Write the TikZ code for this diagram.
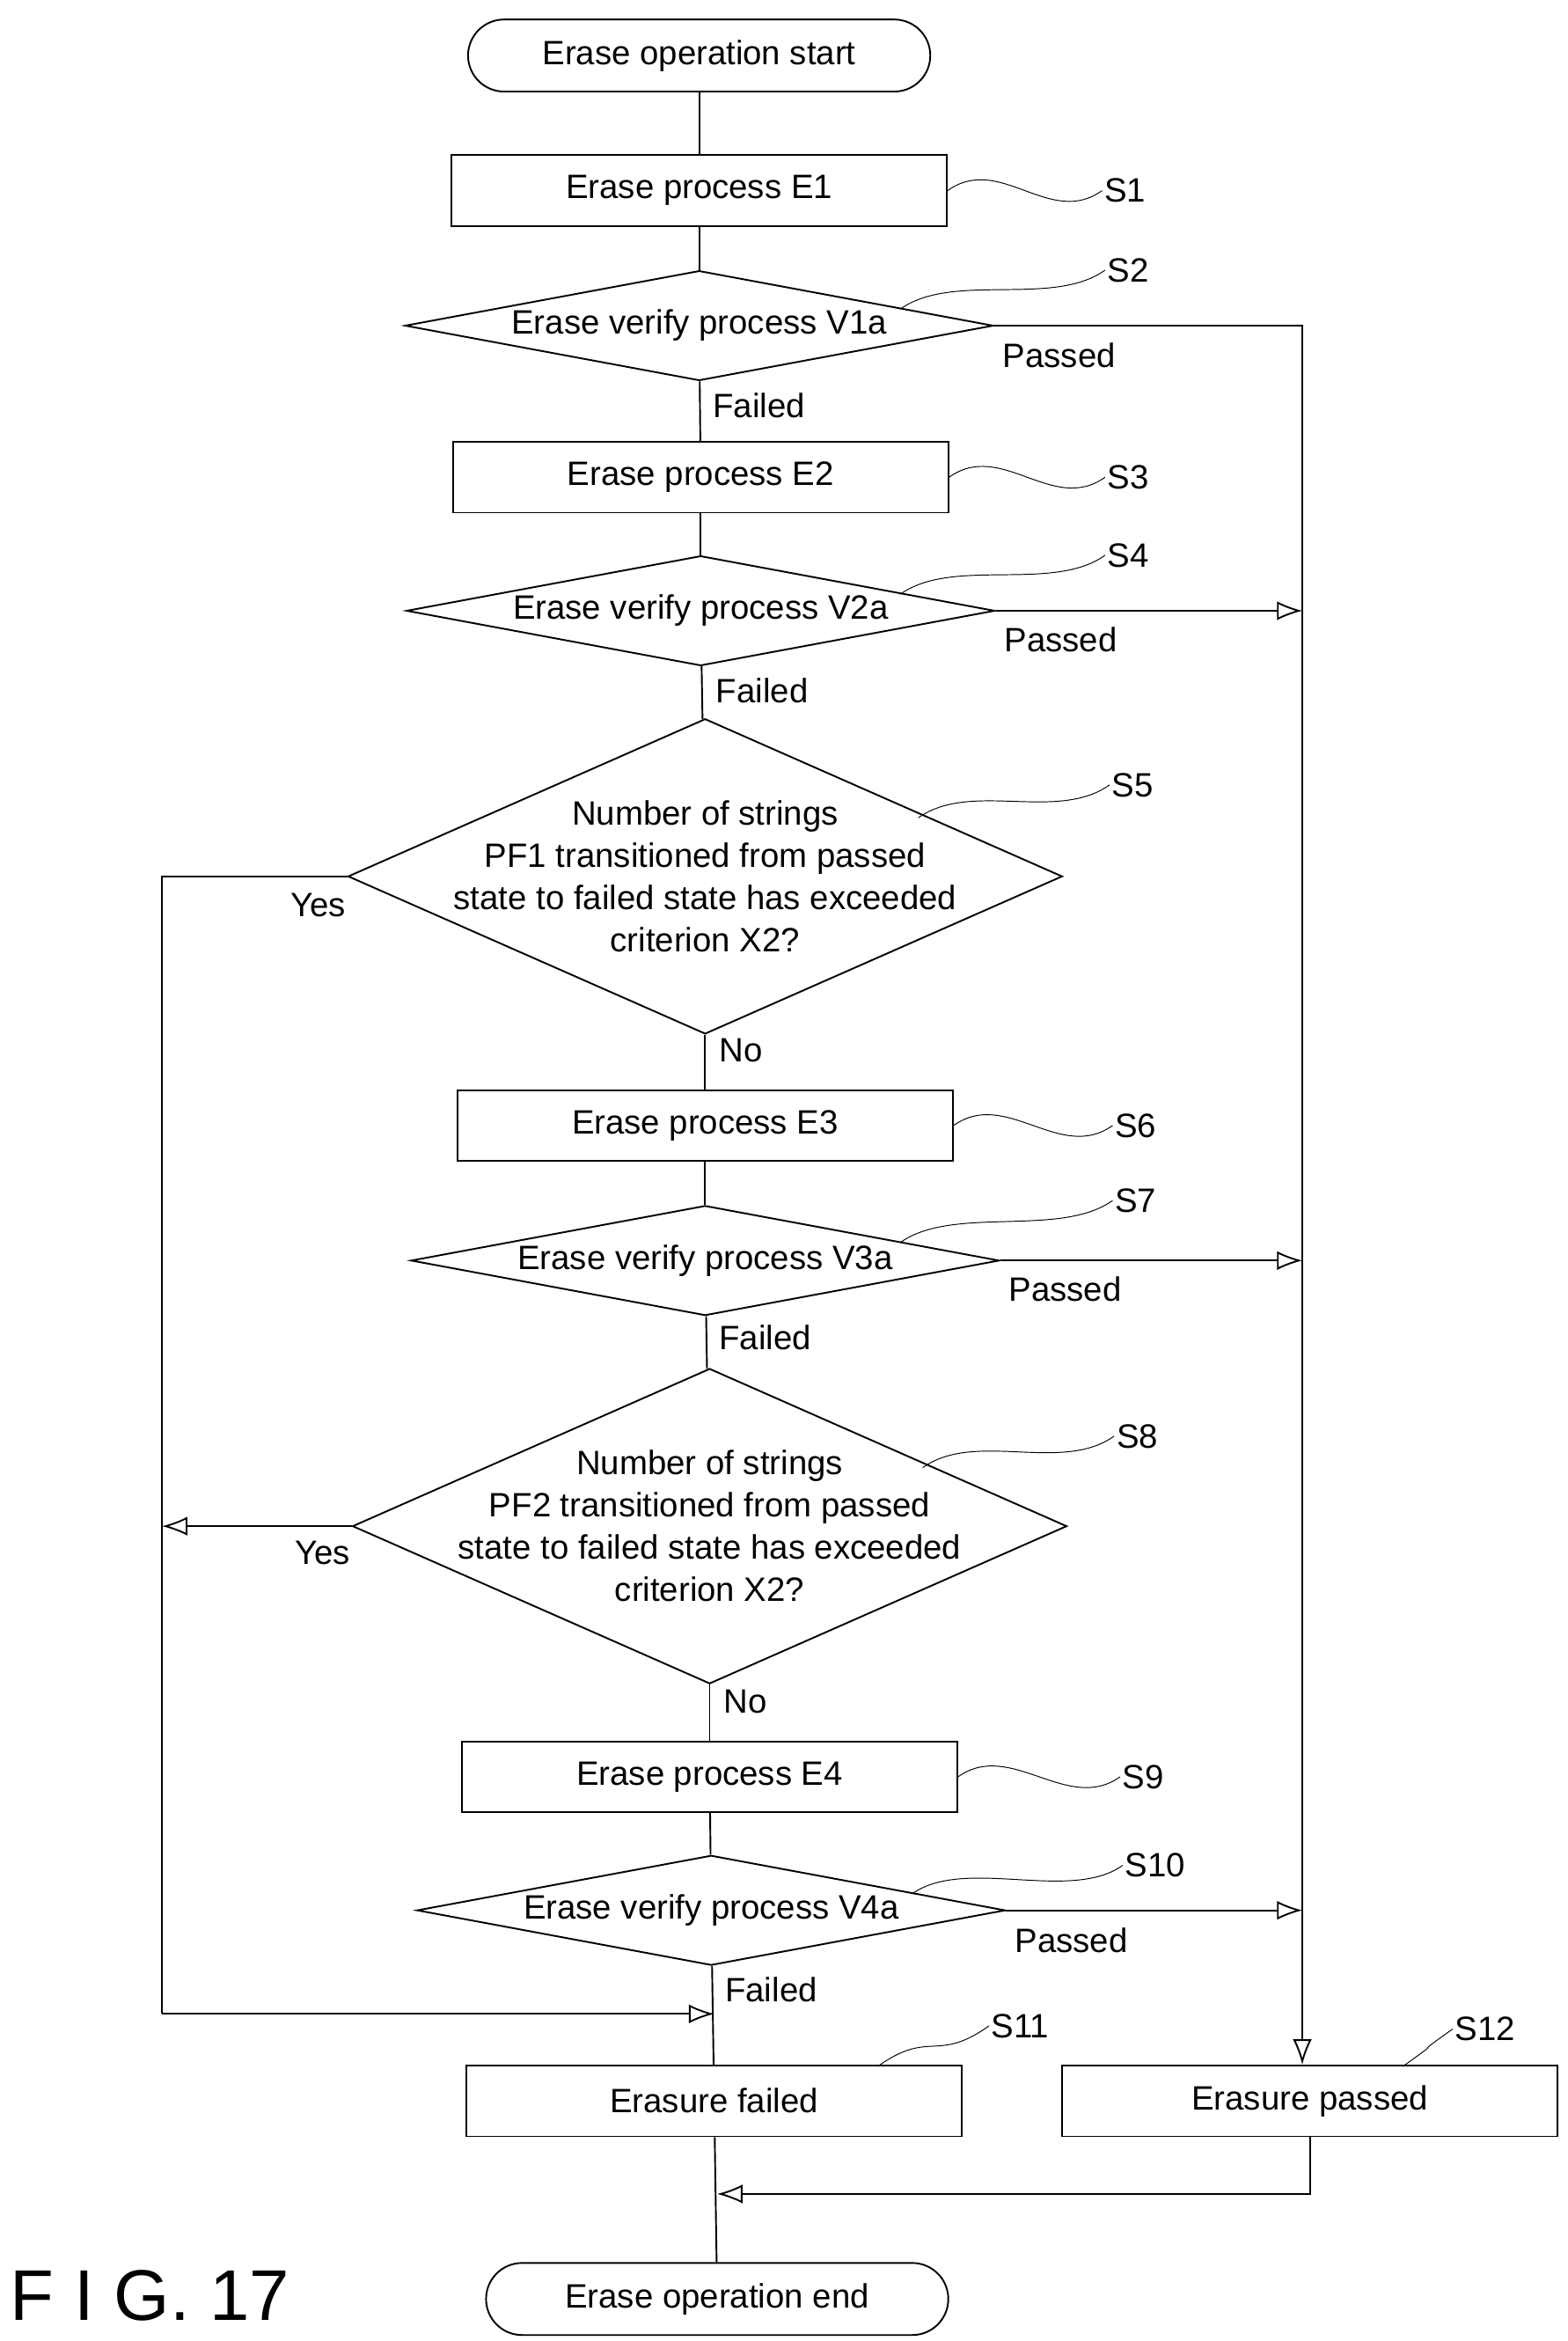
\documentclass[tikz,border=0pt]{standalone}
\usepackage{fontspec}
\setmainfont{Liberation Sans}
\usepackage{tikz}
\usetikzlibrary{positioning,shapes.geometric,arrows.meta}

\tikzset{
  proc/.style={draw, thick, minimum width=8.25cm, minimum height=1.18cm, inner sep=0pt},
  term/.style={draw, thick, rounded corners=0.6cm, minimum width=7.7cm, minimum height=1.2cm, inner sep=0pt},
  check/.style={draw, thick, diamond, inner sep=0pt, minimum width=9.8cm, minimum height=1.83cm},
  bigcheck/.style={draw, thick, diamond, inner sep=0pt, minimum width=11.9cm, minimum height=5.25cm},
  txt/.style={inner sep=0pt, align=center},
  tag/.style={inner sep=1pt},
  flow/.style={thick},
  arr/.style={thick, -{Latex[open, length=12pt, width=9pt]}},
}
\newcommand{\squig}[2]{\draw[thin] (#1) .. controls +(35,-25) and +(-35,25) .. (#2);}

\begin{document}
\begin{tikzpicture}[x=0.025cm, y=-0.025cm, font=\fontsize{16}{20}\selectfont]
  \useasboundingbox (0,0) rectangle (1045,1560);

  % main column
  \node (start) [term] at (466,37) {Erase operation start};
  \node (e1) [proc] at (466,127) {Erase process E1};
  \node (v1) [check] at (466,217) {};
  \node [txt] at (v1) {Erase verify process V1a};
  \node (e2) [proc] at (467,318) {Erase process E2};
  \node (v2) [check] at (467,407) {};
  \node [txt] at (v2) {Erase verify process V2a};
  \node (c1) [bigcheck] at (470,584) {};
  \node [txt] at (c1) {Number of strings\\PF1 transitioned from passed\\state to failed state has exceeded\\criterion X2?};
  \node (e3) [proc] at (470,750) {Erase process E3};
  \node (v3) [check] at (470,840) {};
  \node [txt] at (v3) {Erase verify process V3a};
  \node (c2) [bigcheck] at (473,1017) {};
  \node [txt] at (c2) {Number of strings\\PF2 transitioned from passed\\state to failed state has exceeded\\criterion X2?};
  \node (e4) [proc] at (473,1184) {Erase process E4};
  \node (v4) [check] at (474,1273) {};
  \node [txt] at (v4) {Erase verify process V4a};
  \node (fail) [proc] at (476,1400) {Erasure failed};
  \node (pass) [proc] at (873,1400) {Erasure passed};
  \node (stop) [term] at (478,1532) {Erase operation end};

  \node at (100,1530) {\fontsize{34}{40}\selectfont F I G. 17};

  % helper points
  \coordinate (r1) at (868,217);
  \coordinate (r2) at (868,407);
  \coordinate (r3) at (868,840);
  \coordinate (r4) at (868,1273);
  \coordinate (l1) at (108,584);
  \coordinate (l2) at (108,1017);
  \coordinate (l3) at (108,1342);
  \coordinate (m1) at (476,1342);
  \coordinate (p1) at (873,1462);
  \coordinate (m2) at (478,1462);

  % connectors
  \draw[flow] (start) -- (e1);
  \draw[flow] (e1) -- (v1);
  \draw[flow] (v1) -- (e2);
  \draw[flow] (e2) -- (v2);
  \draw[flow] (v2) -- (c1);
  \draw[flow] (c1) -- (e3);
  \draw[flow] (e3) -- (v3);
  \draw[flow] (v3) -- (c2);
  \draw[flow] (c2) -- (e4);
  \draw[flow] (e4) -- (v4);
  \draw[flow] (v4) -- (fail);
  \draw[flow] (fail) -- (stop);
  \draw[arr] (v1.east) -- (r1) -- (r1 |- pass.north);
  \draw[arr] (v2.east) -- (r2);
  \draw[arr] (v3.east) -- (r3);
  \draw[arr] (v4.east) -- (r4);
  \draw[flow] (c1.west) -- (l1) -- (l3);
  \draw[arr] (l3) -- (m1);
  \draw[arr] (c2.west) -- (l2);
  \draw[arr] (pass.south) -- (p1) -- (m2);

  % branch labels
  \node at (706,237) {Passed};
  \node at (506,270) {Failed};
  \node at (707,426) {Passed};
  \node at (508,460) {Failed};
  \node at (212,603) {Yes};
  \node at (494,700) {No};
  \node at (710,859) {Passed};
  \node at (510,891) {Failed};
  \node at (215,1035) {Yes};
  \node at (497,1134) {No};
  \node at (714,1293) {Passed};
  \node at (514,1326) {Failed};

  % step tags
  \node (s1) [tag] at (750,127) {S1};
  \node (s2) [tag] at (752,180) {S2};
  \node (s3) [tag] at (752,318) {S3};
  \node (s4) [tag] at (752,370) {S4};
  \node (s5) [tag] at (755,523) {S5};
  \node (s6) [tag] at (757,750) {S6};
  \node (s7) [tag] at (757,800) {S7};
  \node (s8) [tag] at (758,957) {S8};
  \node (s9) [tag] at (762,1184) {S9};
  \node (s10) [tag] at (770,1243) {S10};
  \node (s11) [tag] at (680,1350) {S11};
  \node (s12) [tag] at (990,1352) {S12};
  \squig{e1.east}{s1.west}
  \squig{600,206}{s2.west}
  \squig{e2.east}{s3.west}
  \squig{600,396}{s4.west}
  \squig{612,545}{s5.west}
  \squig{e3.east}{s6.west}
  \squig{600,828}{s7.west}
  \squig{615,978}{s8.west}
  \squig{e4.east}{s9.west}
  \squig{608,1262}{s10.west}
  \squig{585,1377}{s11.west}
  \squig{935,1377}{s12.west}
\end{tikzpicture}
\end{document}
